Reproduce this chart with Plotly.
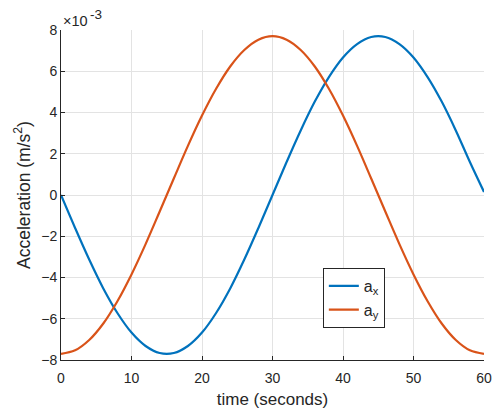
import plotly.graph_objects as go

# time (seconds)
t = [0, 2, 4, 6, 8, 10, 12, 14, 16, 18, 20, 22, 24, 26, 28, 30,
     32, 34, 36, 38, 40, 42, 44, 46, 48, 50, 52, 54, 56, 58, 60]
# accelerations, in units of 1e-3 m/s^2
ax_vals = [0, -1.60, -3.13, -4.53, -5.72, -6.67, -7.32, -7.66, -7.66, -7.32, -6.67, -5.72,
           -4.53, -3.13, -1.60, 0, 1.60, 3.13, 4.53, 5.72, 6.67, 7.32, 7.66, 7.66, 7.32,
           6.67, 5.72, 4.53, 3.13, 1.60, 0.15]
ay_vals = [-7.70, -7.53, -7.03, -6.23, -5.15, -3.85, -2.38, -0.80, 0.80, 2.38, 3.85, 5.15,
           6.23, 7.03, 7.53, 7.70, 7.53, 7.03, 6.23, 5.15, 3.85, 2.38, 0.80, -0.80, -2.38,
           -3.85, -5.15, -6.23, -7.03, -7.53, -7.70]
yticks = [-8, -6, -4, -2, 0, 2, 4, 6, 8]
xticks = [0, 10, 20, 30, 40, 50, 60]

font = "Liberation Sans, Arial, sans-serif"
ink = "#262626"
fig = go.Figure()
fig.add_trace(go.Scatter(x=t, y=ax_vals, mode="lines", name="a<sub>x</sub>",
                         line=dict(color="#0072BD", width=2.2, shape="spline")))
fig.add_trace(go.Scatter(x=t, y=ay_vals, mode="lines", name="a<sub>y</sub>",
                         line=dict(color="#D95319", width=2.2, shape="spline")))

axis_common = dict(showgrid=True, gridcolor="#e3e3e3", gridwidth=1,
                   showline=True, linecolor=ink, linewidth=1,
                   ticks="inside", ticklen=4, tickcolor=ink,
                   tickfont=dict(size=14, color=ink, family=font),
                   zeroline=False, mirror=False, automargin=False)
fig.update_xaxes(range=[0, 60], tickvals=xticks, ticklabelstandoff=5, **axis_common,
                 title=dict(text="time (seconds)", font=dict(size=17, color=ink, family=font), standoff=8))
fig.update_yaxes(range=[-8, 8], tickvals=yticks, **axis_common,
                 title=dict(text="Acceleration (m/s<sup>2</sup>)", font=dict(size=17.5, color=ink, family=font), standoff=6))

fig.add_annotation(text="×10", xref="paper", yref="paper", x=0, y=1,
                   xanchor="left", yanchor="bottom", showarrow=False, yshift=-1,
                   font=dict(size=14.5, color=ink, family=font))
fig.add_annotation(text="-3", xref="paper", yref="paper", x=0, y=1,
                   xanchor="left", yanchor="bottom", showarrow=False, xshift=27, yshift=6,
                   font=dict(size=13.5, color=ink, family=font))

fig.update_layout(
    width=498, height=415,
    margin=dict(l=61, r=14, t=30, b=55, autoexpand=False),
    paper_bgcolor="white", plot_bgcolor="white",
    legend=dict(x=0.619, y=0.279, xanchor="left", yanchor="top",
                bordercolor=ink, borderwidth=1, bgcolor="white",
                font=dict(size=16, color=ink, family=font),
                tracegroupgap=2),
    showlegend=True,
)
fig.write_html("out.html")
